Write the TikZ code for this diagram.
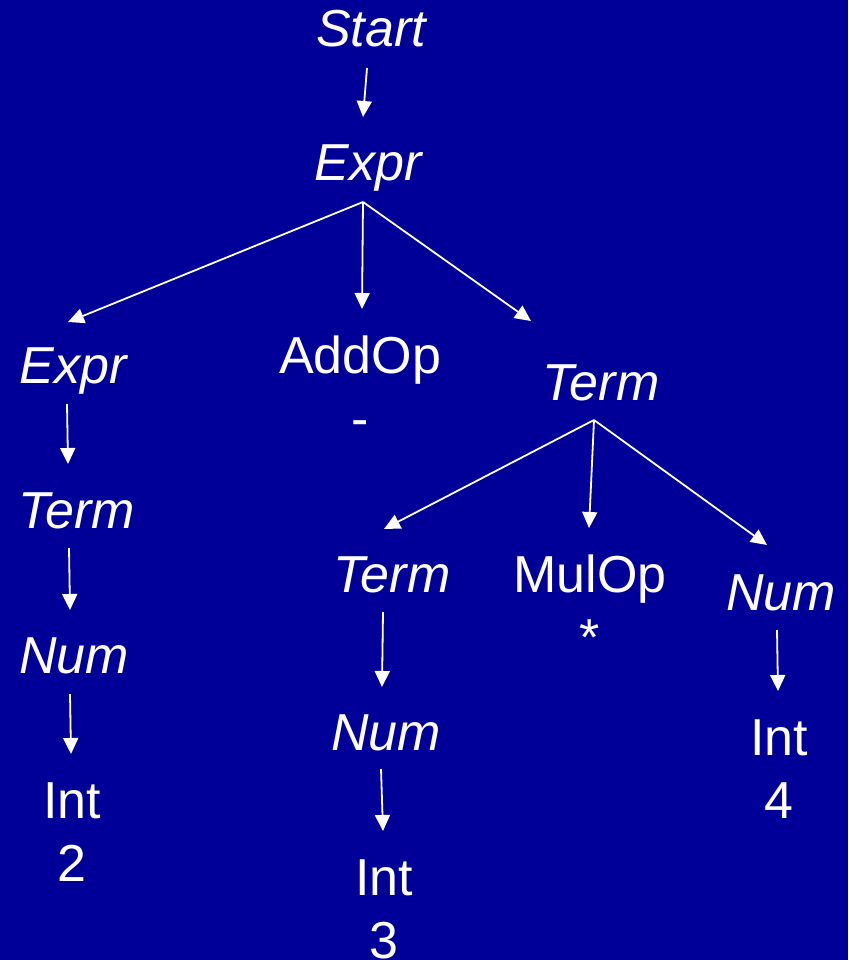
\documentclass[tikz,border=0pt]{standalone}
\usepackage{fontspec}
\setmainfont{Liberation Sans}
\usetikzlibrary{arrows.meta,calc}
\definecolor{bgblue}{RGB}{0,0,153}
\begin{document}
\begin{tikzpicture}[x=1pt,y=-1pt,
  lbl/.style={anchor=base,inner sep=0pt,text=white,align=center,
    font=\fontsize{52}{63}\selectfont},
  nt/.style={lbl,font=\fontsize{52}{63}\selectfont\itshape},
  arr/.style={draw=white,line width=1.8pt,-{Triangle[length=16pt,width=15pt]}}]
\fill[bgblue] (0,0) rectangle (848,960);
\useasboundingbox (0,0) rectangle (848,960);
% nodes (two-line nodes are placed by the baseline of their last line)
\node[nt]  (start) at (371,47)  {Start};
\node[nt]  (expr)  at (368,180) {Expr};
\node[nt]  (exprL) at (73,383)  {Expr};
\node[lbl] (addop) at (360,436) {AddOp\\-};
\node[nt]  (termR) at (601,400) {Term};
\node[nt]  (termL) at (77,528)  {Term};
\node[nt]  (numL)  at (74,673)  {Num};
\node[lbl] (int2)  at (72,881)  {Int\\2};
\node[nt]  (termM) at (392,592) {Term};
\node[lbl] (mulop) at (590,655) {MulOp\\*};
\node[nt]  (numR)  at (781,610) {Num};
\node[nt]  (numM)  at (386,750) {Num};
\node[lbl] (int3)  at (384,958) {Int\\3};
\node[lbl] (int4)  at (779,818) {Int\\4};
% connectors
\draw[arr] ($(start.base)+(-4,21)$) -- ($(expr.base)+(-5,-63)$);
\draw[arr] ($(expr.base)+(-5,22)$) -- ($(exprL.base)+(-5,-61)$);
\draw[arr] ($(expr.base)+(-5,22)$) -- ($(addop.base)+(2,-127)$);
\draw[arr] ($(expr.base)+(-5,22)$) -- ($(termR.base)+(-70,-79)$);
\draw[arr] ($(exprL.base)+(-6,21)$) -- ($(termL.base)+(-9,-64)$);
\draw[arr] ($(termL.base)+(-8,20)$) -- ($(numL.base)+(-4,-63)$);
\draw[arr] ($(numL.base)+(-4,21)$) -- ($(int2.base)+(-1,-127)$);
\draw[arr] ($(termR.base)+(-7,20)$) -- ($(termM.base)+(-8,-63)$);
\draw[arr] ($(termR.base)+(-7,20)$) -- ($(mulop.base)+(-1,-127)$);
\draw[arr] ($(termR.base)+(-7,20)$) -- ($(numR.base)+(-14,-65)$);
\draw[arr] ($(termM.base)+(-9,20)$) -- ($(numM.base)+(-4,-63)$);
\draw[arr] ($(numM.base)+(-5,19)$) -- ($(int3.base)+(-1,-127)$);
\draw[arr] ($(numR.base)+(-4,20)$) -- ($(int4.base)+(-1,-127)$);
\end{tikzpicture}
\end{document}
